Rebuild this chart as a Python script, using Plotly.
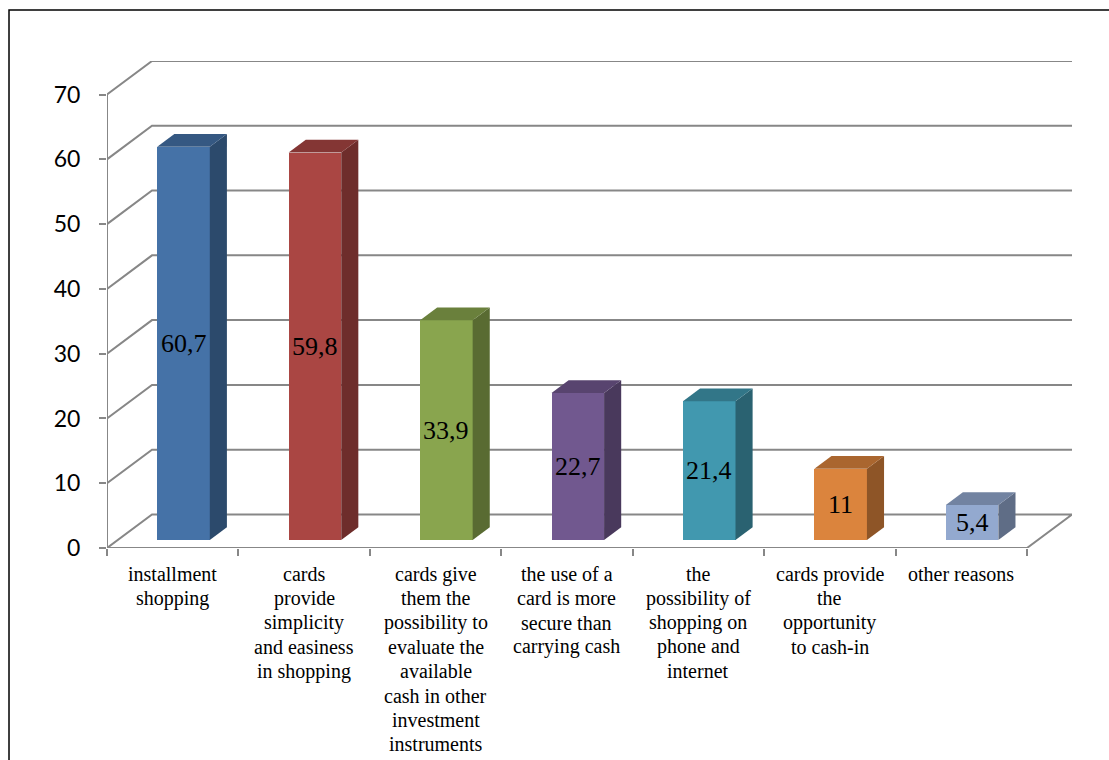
import plotly.graph_objects as go

# ---------------- data ----------------
categories = [
    "installment<br>shopping",
    "cards<br>provide<br>simplicity<br>and easiness<br>in shopping",
    "cards give<br>them the<br>possibility to<br>evaluate the<br>available<br>cash in other<br>investment<br>instruments",
    "the use of a<br>card is more<br>secure than<br>carrying cash",
    "the<br>possibility of<br>shopping on<br>phone and<br>internet",
    "cards provide<br>the<br>opportunity<br>to cash-in",
    "other reasons",
]
values = [60.7, 59.8, 33.9, 22.7, 21.4, 11, 5.4]
value_labels = ["60,7", "59,8", "33,9", "22,7", "21,4", "11", "5,4"]
y_ticks = [0, 10, 20, 30, 40, 50, 60, 70]

# ---------------- styles ----------------
front_colors = ["#4572A7", "#AA4643", "#89A54E", "#71588F", "#4198AF", "#DB843D", "#93A9CF"]
GRID = "#878787"


def shade(hx, f):
    hx = hx.lstrip("#")
    r, g, b = (int(hx[i:i + 2], 16) for i in (0, 2, 4))
    return "rgb({},{},{})".format(int(r * f), int(g * f), int(b * f))


n = len(values)
YMAX = max(y_ticks)
DX = 0.3425   # depth of the 3D box in category units
DY = 5.18     # depth of the 3D box in value units
Z0 = 0.24     # front face depth fraction of bars
ZD = 0.38     # bar depth fraction
BW = 0.40     # bar width

base = Z0 * DY
xs = [i + Z0 * DX for i in range(n)]

fig = go.Figure()
fig.add_trace(go.Bar(
    x=xs, y=values, base=[base] * n, width=BW,
    marker=dict(color=front_colors, line=dict(width=0)),
    hoverinfo="skip", showlegend=False,
))

shapes = []
# back wall / side wall gridlines
for v in y_ticks:
    if v == 0:
        path = "M {a},{b} L {c},{d} L {e},{d} L {f},{b} Z".format(
            a=-0.5, b=0, c=-0.5 + DX, d=DY, e=n - 0.5 + DX, f=n - 0.5)
    else:
        path = "M {a},{b} L {c},{d} L {e},{d}".format(
            a=-0.5, b=v, c=-0.5 + DX, d=v + DY, e=n - 0.5 + DX)
    shapes.append(dict(type="path", path=path, xref="x", yref="y",
                       line=dict(color=GRID, width=2), layer="below"))
# front value axis line
shapes.append(dict(type="line", x0=-0.5, x1=-0.5, y0=0, y1=YMAX, xref="x", yref="y",
                   line=dict(color=GRID, width=2), layer="below"))

ddx, ddy = ZD * DX, ZD * DY
for x, v, c in zip(xs, values, front_colors):
    xl, xr = x - BW / 2, x + BW / 2
    top = base + v
    side = "M {xr},{b} L {xr2},{b2} L {xr2},{t2} L {xr},{t} Z".format(
        xr=xr, b=base, xr2=xr + ddx, b2=base + ddy, t2=top + ddy, t=top)
    topf = "M {xl},{t} L {xl2},{t2} L {xr2},{t2} L {xr},{t} Z".format(
        xl=xl, t=top, xl2=xl + ddx, t2=top + ddy, xr2=xr + ddx, xr=xr)
    shapes.append(dict(type="path", path=side, xref="x", yref="y",
                       fillcolor=shade(c, 0.65), line=dict(width=0), layer="above"))
    shapes.append(dict(type="path", path=topf, xref="x", yref="y",
                       fillcolor=shade(c, 0.78), line=dict(width=0), layer="above"))

# outer chart border
shapes.append(dict(type="rect", xref="paper", yref="paper",
                   x0=-0.10155, x1=1.06, y0=-0.48, y1=1.1047,
                   line=dict(color="black", width=1.5), fillcolor="rgba(0,0,0,0)", layer="above"))

annotations = []
# value labels
for x, v, t in zip(xs, values, value_labels):
    annotations.append(dict(x=x, y=base + v / 2, xref="x", yref="y", text=t,
                            showarrow=False, xanchor="center", yanchor="middle",
                            font=dict(family="Liberation Serif", size=26, color="black")))
# category labels, one annotation per line
for i, cat in enumerate(categories):
    for k, line in enumerate(cat.split("<br>")):
        annotations.append(dict(x=i, y=0, xref="x", yref="y", text=line,
                                showarrow=False, xanchor="center", yanchor="middle",
                                yshift=-(26 + 24.3 * k),
                                font=dict(family="Liberation Serif", size=20, color="black")))

fig.update_layout(
    width=1109, height=760,
    margin=dict(l=107, r=37, t=61, b=212, pad=0),
    paper_bgcolor="white", plot_bgcolor="white",
    shapes=shapes, annotations=annotations,
    xaxis=dict(range=[-0.5, n - 0.5 + DX], showgrid=False, zeroline=False, showline=False,
               tickmode="array", tickvals=[i - 0.5 for i in range(n + 1)],
               ticktext=[""] * (n + 1), showticklabels=False,
               ticks="outside", ticklen=7, tickwidth=2, tickcolor=GRID, fixedrange=True),
    yaxis=dict(range=[0, YMAX + DY], showgrid=False, zeroline=False, showline=False,
               tickmode="array", tickvals=y_ticks, ticktext=[str(t) for t in y_ticks],
               ticks="outside", ticklen=7, tickwidth=2, tickcolor=GRID,
               ticklabelstandoff=14,
               tickfont=dict(family="Lato", size=23, color="black"), fixedrange=True),
    bargap=0,
)

fig.write_html("out.html", config={"displayModeBar": False},
               post_script="document.body.style.margin='0';document.body.style.overflow='hidden';")
